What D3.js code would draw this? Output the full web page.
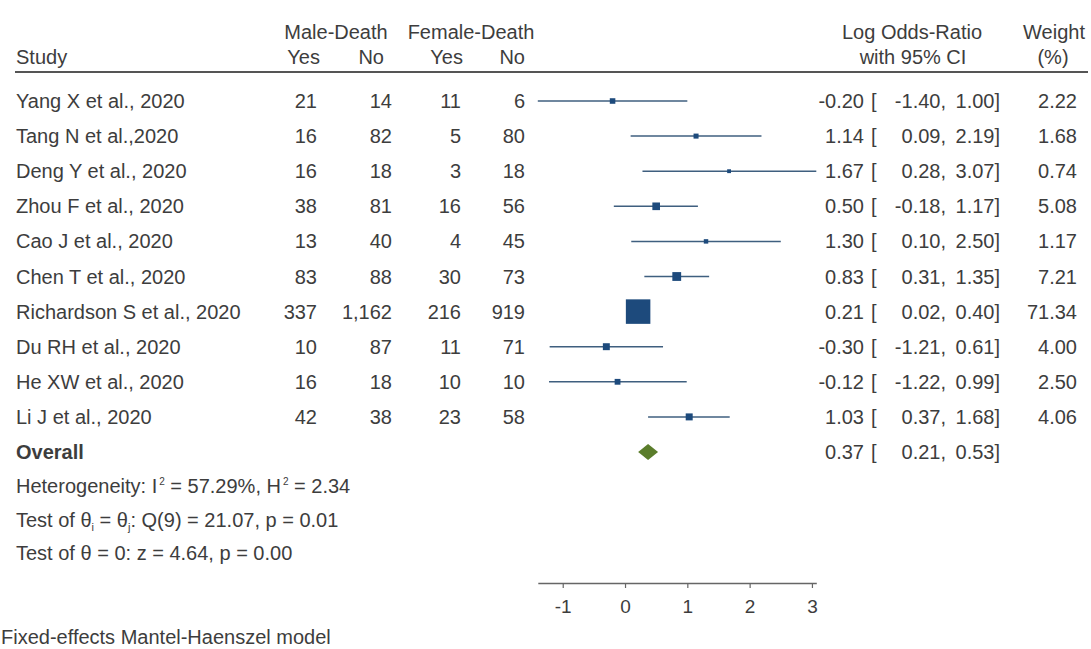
<!DOCTYPE html>
<html>
<head>
<meta charset="utf-8">
<script src="https://cdn.jsdelivr.net/npm/d3@7"></script>
<style>
  html, body { margin: 0; padding: 0; background: #fff; }
  svg { display: block; font-family: "Liberation Sans", Arial, sans-serif; }
  text { fill: #3d3d3d; }
</style>
</head>
<body>
<svg id="chart" width="1091" height="649"></svg>
<script>
const studies = ["Yang X et al., 2020", "Tang N et al.,2020", "Deng Y et al., 2020", "Zhou F et al., 2020",
  "Cao J et al., 2020", "Chen T et al., 2020", "Richardson S et al., 2020", "Du RH et al., 2020",
  "He XW et al., 2020", "Li J et al., 2020"];
const maleYes   = [21, 16, 16, 38, 13, 83, 337, 10, 16, 42];
const maleNo    = [14, 82, 18, 81, 40, 88, 1162, 87, 18, 38];
const femaleYes = [11, 5, 3, 16, 4, 30, 216, 11, 10, 23];
const femaleNo  = [6, 80, 18, 56, 45, 73, 919, 71, 10, 58];
const logOR     = [-0.20, 1.14, 1.67, 0.50, 1.30, 0.83, 0.21, -0.30, -0.12, 1.03];
const ciLow     = [-1.40, 0.09, 0.28, -0.18, 0.10, 0.31, 0.02, -1.21, -1.22, 0.37];
const ciHigh    = [1.00, 2.19, 3.07, 1.17, 2.50, 1.35, 0.40, 0.61, 0.99, 1.68];
const weights   = [2.22, 1.68, 0.74, 5.08, 1.17, 7.21, 71.34, 4.00, 2.50, 4.06];
const overall   = { est: 0.37, low: 0.21, high: 0.53 };
const xTicks    = [-1, 0, 1, 2, 3];

const svg = d3.select("#chart");
const FS = 20;
const fmtN = d3.format(",");
const fmt2 = v => v.toFixed(2);

const x = d3.scaleLinear().domain([-1.4, 3.07]).range([537.8, 816.3]);
const rowY = d3.scalePoint().domain(d3.range(11)).range([101, 452]);
const sz = d3.scaleSqrt().domain([0, 71.34]).range([0, 23]);
const size = w => sz(w) + 1.5;

function txt(xp, yp, s, anchor, opts = {}) {
  return svg.append("text").attr("x", xp).attr("y", yp).attr("dy", "0.35em")
    .attr("text-anchor", anchor || "start")
    .style("font-size", (opts.size || FS) + "px")
    .style("font-weight", opts.bold ? "bold" : null)
    .text(s);
}

// Header
txt(16, 57, "Study");
txt(336, 32, "Male-Death", "middle");
txt(471, 32, "Female-Death", "middle");
txt(320, 57, "Yes", "end");
txt(384, 57, "No", "end");
txt(463, 57, "Yes", "end");
txt(525, 57, "No", "end");
txt(912, 32, "Log Odds-Ratio", "middle");
txt(913, 57, "with 95% CI", "middle");
txt(1054, 32, "Weight", "middle");
txt(1053, 57, "(%)", "middle");
svg.append("line").attr("x1", 15).attr("x2", 1088).attr("y1", 72).attr("y2", 72)
  .attr("stroke", "#555").attr("stroke-width", 2.2);

// Study rows
const colX = [317, 392, 461, 525];
const cols = [maleYes, maleNo, femaleYes, femaleNo];
studies.forEach((s, i) => {
  const y = rowY(i);
  txt(16, y, s);
  cols.forEach((c, j) => txt(colX[j], y, fmtN(c[i]), "end"));
});

// CI lines
svg.append("g").selectAll("line").data(studies).join("line")
  .attr("x1", (d, i) => x(ciLow[i])).attr("x2", (d, i) => x(ciHigh[i]))
  .attr("y1", (d, i) => rowY(i)).attr("y2", (d, i) => rowY(i))
  .attr("stroke", "#3f5f7f").attr("stroke-width", 1.5);

// squares
svg.append("g").selectAll("rect").data(studies).join("rect")
  .attr("x", (d, i) => x(logOR[i]) - size(weights[i]) / 2)
  .attr("y", (d, i) => rowY(i) - size(weights[i]) / 2)
  .attr("width", (d, i) => size(weights[i]))
  .attr("height", (d, i) => size(weights[i]))
  .attr("fill", "#1d4a7c");

// Overall diamond
const oy = rowY(10);
svg.append("path")
  .attr("d", `M${x(overall.low)},${oy} L${x(overall.est)},${oy - 8} L${x(overall.high)},${oy} L${x(overall.est)},${oy + 8} Z`)
  .attr("fill", "#5b7d2b");
txt(16, oy, "Overall", "start", { bold: true });

// Right columns
function ciText(y, est, lo, hi, w) {
  txt(864, y, fmt2(est), "end");
  txt(871, y, "[", "start");
  txt(946, y, fmt2(lo) + ",", "end");
  txt(1000, y, fmt2(hi) + "]", "end");
  if (w !== null) txt(1077, y, fmt2(w), "end");
}
studies.forEach((s, i) => ciText(rowY(i), logOR[i], ciLow[i], ciHigh[i], weights[i]));
ciText(oy, overall.est, overall.low, overall.high, null);

// Stats lines (sub/superscripts with pixel shifts so the baseline returns exactly)
const h = svg.append("text").attr("x", 16).attr("y", 486).attr("dy", "0.35em").style("font-size", FS + "px");
h.append("tspan").text("Heterogeneity: I");
h.append("tspan").attr("dx", 2).attr("dy", -8).style("font-size", "10px").text("2");
h.append("tspan").attr("dy", 8).text(" = 57.29%, H");
h.append("tspan").attr("dx", 2).attr("dy", -8).style("font-size", "10px").text("2");
h.append("tspan").attr("dy", 8).text(" = 2.34");

const t1 = svg.append("text").attr("x", 16).attr("y", 520).attr("dy", "0.35em").style("font-size", FS + "px");
t1.append("tspan").text("Test of θ");
t1.append("tspan").attr("dy", 4).style("font-size", "11px").text("i");
t1.append("tspan").attr("dy", -4).text(" = θ");
t1.append("tspan").attr("dy", 4).style("font-size", "11px").text("j");
t1.append("tspan").attr("dy", -4).text(": Q(9) = 21.07, p = 0.01");

txt(16, 553, "Test of θ = 0: z = 4.64, p = 0.00");
txt(1, 637, "Fixed-effects Mantel-Haenszel model");

// Axis
const axis = svg.append("g").attr("transform", "translate(0,583)")
  .call(d3.axisBottom(x).tickValues(xTicks).tickFormat(d => String(d)).tickSize(5).tickSizeOuter(0));
axis.select(".domain").attr("stroke", "#666").attr("stroke-width", 1.6);
axis.selectAll(".tick line").attr("stroke", "#666").attr("stroke-width", 1.2);
axis.selectAll(".tick text").attr("y", 17).style("font-size", "19px")
  .style("font-family", "'Liberation Sans', Arial, sans-serif").attr("fill", "#3d3d3d");
</script>
</body>
</html>
